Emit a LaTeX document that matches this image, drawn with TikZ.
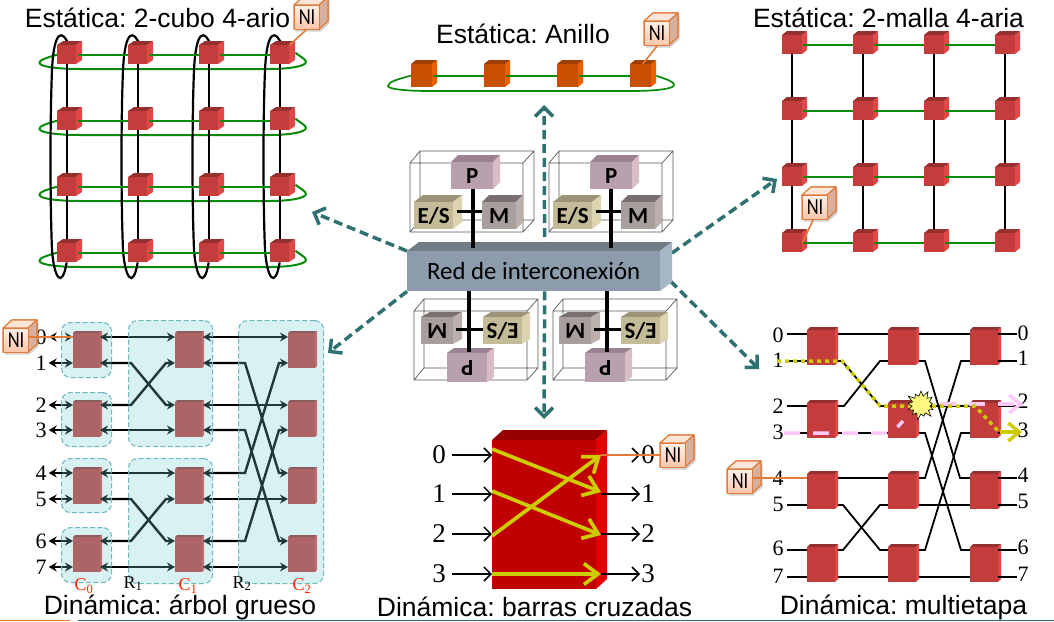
\documentclass[tikz,border=0pt]{standalone}
\usepackage{fontspec}
\setmainfont{Liberation Sans}
\newfontfamily\serifnum{Liberation Serif}
\newfontfamily\carl{Carlito}
\usetikzlibrary{arrows.meta,shadows,shapes.symbols,backgrounds}
\frenchspacing
\definecolor{redF}{HTML}{C43C3C}\definecolor{redT}{HTML}{963030}\definecolor{redS}{HTML}{E04848}
\definecolor{oraF}{HTML}{C84F00}\definecolor{oraT}{HTML}{9E3E00}\definecolor{oraS}{HTML}{E86000}
\definecolor{barF}{HTML}{8C9CAC}\definecolor{barT}{HTML}{707C86}\definecolor{barS}{HTML}{A6B6C6}
\definecolor{proF}{HTML}{B8A0AC}\definecolor{proT}{HTML}{9A8290}\definecolor{proS}{HTML}{D8BCC8}
\definecolor{iosF}{HTML}{C4BC98}\definecolor{iosT}{HTML}{9C9478}\definecolor{iosS}{HTML}{DCD3B0}
\definecolor{memF}{HTML}{A89E9C}\definecolor{memT}{HTML}{787070}\definecolor{memS}{HTML}{BCB0AC}
\definecolor{xbrF}{HTML}{C00000}\definecolor{xbrT}{HTML}{960000}\definecolor{xbrS}{HTML}{E00000}
\definecolor{nigreen}{HTML}{0A8A0A}
\definecolor{niline}{HTML}{E07B39}
\definecolor{tealar}{HTML}{2F7070}
\definecolor{yel}{HTML}{CCCC00}
\definecolor{pinkp}{HTML}{FFC8FA}
\definecolor{FCE4D8}{HTML}{FCE4D8}\definecolor{D8AE9E}{HTML}{D8AE9E}\definecolor{FFF0E8}{HTML}{FFF0E8}\definecolor{FFC4A8}{HTML}{FFC4A8}
\definecolor{shadec}{HTML}{72CFD6}\definecolor{shadel}{HTML}{70B8C0}
\newcommand{\cubo}[9]{%
  \fill[#8T] (#2,#3) -- ++(#6,-#7) -- ++(#4,0) -- ++(-#6,#7) -- cycle;
  \fill[#8S] (#2+#4,#3) -- ++(#6,-#7) -- ++(0,#5) -- ++(-#6,#7) -- cycle;
  \node[anchor=north west,inner sep=0pt,minimum width=#4pt,minimum height=#5pt,fill=#8F,font=\carl\bfseries\fontsize{23}{23}\selectfont] (#1) at (#2,#3) {#9};
}
\newcommand{\nicubo}[3]{%
  \fill[niface,drop shadow={opacity=.35,shadow xshift=1.5pt,shadow yshift=-2.5pt}] (#2,#3) -- ++(9,-8) -- ++(25,0) -- ++(0,24) -- ++(-9,8) -- ++(-25,0) -- cycle;
  \filldraw[niface,fill=FCE4D8] (#2,#3) -- ++(9,-8) -- ++(25,0) -- ++(-9,8) -- cycle;
  \filldraw[niface,fill=D8AE9E] (#2+25,#3) -- ++(9,-8) -- ++(0,24) -- ++(-9,8) -- cycle;
  \node[anchor=north west,inner sep=0pt,minimum width=25pt,minimum height=24pt,draw=niline,line width=1.1pt,top color=FFF0E8,bottom color=FFC4A8,text=black,font=\carl\fontsize{23}{23}\selectfont] (#1) at (#2,#3) {\scalebox{.8}[1]{NI}};
}
\newcommand{\marco}[2]{%
  \draw[frameline] (#1+10,#2-12) rectangle (#1+124,#2+57) (#1,#2) rectangle (#1+113,#2+69)
    (#1,#2) -- (#1+10,#2-12) (#1+113,#2) -- (#1+124,#2-12) (#1,#2+69) -- (#1+10,#2+57) (#1+113,#2+69) -- (#1+124,#2+57);
}
\tikzset{
  niface/.style={draw=niline,line width=1.1pt,fill=white,line join=round},
  frameline/.style={draw=black!65,line width=.7pt},
  title/.style={font=\fontsize{26.5}{26.5}\selectfont,inner sep=0pt,text=black},
  num/.style={font=\serifnum\fontsize{22}{22}\selectfont,inner sep=0pt},
  cnum/.style={font=\serifnum\fontsize{27}{27}\selectfont,inner sep=0pt},
  stagelab/.style={font=\serifnum\fontsize{18}{18}\selectfont,inner sep=0pt},
  ringk/.style={draw=black,line width=2.2pt},
  ringg/.style={draw=nigreen,line width=2pt},
  wirek/.style={draw=black,line width=2.3pt},
  wireg/.style={draw=nigreen,line width=2pt},
  thickw/.style={draw=black,line width=3.2pt},
  msw/.style={draw=black,line width=1.8pt},
  ftw/.style={draw=black,line width=2.4pt,{Stealth[length=8pt,width=9pt]}-{Stealth[length=8pt,width=9pt]}},
  tealarrow/.style={draw=tealar,line width=3.5pt,dash pattern=on 9pt off 5pt,-{Straight Barb[length=9pt,width=18pt,line width=3.5pt]}},
  xin/.style={draw=black,line width=1.5pt,-{Straight Barb[length=7pt,width=14pt]}},
  xyel/.style={draw=yel,line width=3.7pt,-{Straight Barb[length=14pt,width=21pt,line width=3.7pt]}},
  niwire/.style={draw=niline,line width=1.6pt},
  fatshade/.style={rounded corners=9pt,inner sep=0pt,anchor=north west,fill=shadec,fill opacity=.28,draw=shadel,draw opacity=1,line width=1.1pt,dash pattern=on 5pt off 2.5pt},
}
\begin{document}
\begin{tikzpicture}[x=1pt,y=-1pt]
\useasboundingbox (0,0) rectangle (1054,621);
% ---------------- top left: torus
\node[title] (t1) at (157.5,18) {Estática: 2-cubo 4-ario};
\foreach \r/\yy in {1/45,2/111,3/177,4/243}{
  \foreach \c/\xx in {1/57,2/128,3/199,4/270}{
    \cubo{a\r\c}{\xx}{\yy}{19}{19}{6}{4}{red}{}
  }
}
\begin{pgfonlayer}{background}
\foreach \r/\yy in {1/45,2/111,3/177,4/243}{
  \draw[ringg] (a\r1.west) .. controls (46,\yy+13) and (39,\yy+15) .. (39.5,\yy+18) .. controls (40,\yy+22) and (60,\yy+24) .. (80,\yy+24) -- (270,\yy+24) .. controls (290,\yy+24) and (306,\yy+21) .. (306,\yy+17) .. controls (306,\yy+14) and (299,\yy+11) .. ([xshift=6pt,yshift=2pt]a\r4.east);
}
\foreach \c/\xx in {1/57,2/128,3/199,4/270}{
  \draw[ringk] ([xshift=2pt]a1\c.north) .. controls (\xx+6,30) and (\xx-3,28) .. (\xx-5,70) .. controls (\xx-7,120) and (\xx-7,200) .. (\xx-5,250) .. controls (\xx-3,278) and (\xx+5,290) .. (a4\c.south);
  \draw[wirek] (a1\c.south) -- (a2\c.north);
  \draw[wirek] (a2\c.south) -- (a3\c.north);
  \draw[wirek] (a3\c.south) -- (a4\c.north);
}
\end{pgfonlayer}
\foreach \r in {1,2,3,4}{
  \draw[wireg,shorten <=2pt] (a\r1.east) -- (a\r2.west);
  \draw[wireg,shorten <=2pt] (a\r2.east) -- (a\r3.west);
  \draw[wireg,shorten <=2pt] (a\r3.east) -- (a\r4.west);
}
\nicubo{nia}{294}{5}
\draw[niwire] ([xshift=-1pt]nia.south) -- (a14.north east);
% ---------------- top middle: ring
\node[title] (t2) at (523,34) {Estática: Anillo};
\foreach \c/\xx in {1/411,2/484,3/557,4/630}{
  \cubo{o\c}{\xx}{64}{21}{23}{5}{4}{ora}{}
}
\begin{pgfonlayer}{background}
\draw[ringg,line width=1.7pt] (o1.west) .. controls (398,79) and (388,82) .. (388,86) .. controls (388,89) and (405,91) .. (430,91) -- (630,91) .. controls (655,91) and (674,89) .. (674,85) .. controls (674,81) and (662,78) .. ([xshift=5pt]o4.east);
\end{pgfonlayer}
\draw[wireg,line width=1.7pt,shorten <=1pt] (o1.east) -- (o2.west);
\draw[wireg,line width=1.7pt,shorten <=1pt] (o2.east) -- (o3.west);
\draw[wireg,line width=1.7pt,shorten <=1pt] (o3.east) -- (o4.west);
\nicubo{nib}{644}{21}
\draw[niwire] (nib.south) -- ([xshift=2pt]o4.north);
% ---------------- top right: mesh
\node[title] (t3) at (888.5,18) {Estática: 2-malla 4-aria};
\foreach \r/\yy in {1/35,2/101,3/167,4/233}{
  \foreach \c/\xx in {1/782,2/853,3/924,4/995}{
    \cubo{g\r\c}{\xx}{\yy}{20}{19}{5}{4}{red}{}
  }
}
\begin{pgfonlayer}{background}
\foreach \c in {1,2,3,4}{
  \draw[wirek] (g1\c.south) -- (g2\c.north);
  \draw[wirek] (g2\c.south) -- (g3\c.north);
  \draw[wirek] (g3\c.south) -- (g4\c.north);
}
\end{pgfonlayer}
\foreach \r in {1,2,3,4}{
  \draw[wireg,shorten <=1pt] (g\r1.east) -- (g\r2.west);
  \draw[wireg,shorten <=1pt] (g\r2.east) -- (g\r3.west);
  \draw[wireg,shorten <=1pt] (g\r3.east) -- (g\r4.west);
}
\nicubo{nic}{802}{195}
\draw[niwire] ([xshift=-2pt]nic.south) -- (g41.east);
% ---------------- centre frames
\marco{410}{163}
\marco{549}{163}
\marco{414}{311}
\marco{553}{311}
% bar
\node[anchor=north west,inner sep=0pt,minimum width=253pt,minimum height=40pt] (barpos) at (407,251) {};
\coordinate (tipup) at (544,105);
\coordinate (tipdn) at (544,419);
\coordinate (tiptl) at (312,212);
\coordinate (tiptr) at (777,179);
\coordinate (tipbl) at (328,353);
\coordinate (tipbr) at (759,369);
\draw[tealarrow] ([xshift=11pt]barpos.north) -- (tipup);
\draw[tealarrow] ([xshift=11pt]barpos.south) -- (tipdn);
\draw[tealarrow] (barpos.north west) -- (tiptl);
\draw[tealarrow] ([yshift=10pt]barpos.east) -- (tiptr);
\draw[tealarrow] (barpos.south west) -- (tipbl);
\draw[tealarrow] (barpos.east) -- (tipbr);
\cubo{bar}{407}{251}{253}{40}{12}{9}{bar}{\mdseries\fontsize{24.8}{24.8}\selectfont Red de interconexión}
% upper processors
\foreach \n/\dx/\wx in {1/0/473,2/139/611}{
  \cubo{P\n}{451+\dx}{162}{42}{27}{7}{7}{pro}{P}
  \cubo{ES\n}{414+\dx}{202}{39}{27}{9}{7}{ios}{E/S}
  \cubo{M\n}{482+\dx}{202}{34}{27}{7}{7}{mem}{M}
  \draw[thickw] ([xshift=4pt,yshift=4.5pt]ES\n.east) -- ([yshift=4.5pt]M\n.west);
  \draw[thickw,shorten >=3pt] (\wx,189) -- (\wx,251);
}
% lower processors
\foreach \n/\dx/\wx in {3/0/469,4/138/607}{
  \cubo{M\n}{421+\dx}{317}{32}{27}{9}{5}{mem}{\rotatebox{180}{M}}
  \cubo{ES\n}{483+\dx}{317}{39}{27}{8}{5}{ios}{\rotatebox{180}{E/S}}
  \cubo{P\n}{447+\dx}{353}{40}{29}{7}{5}{pro}{\rotatebox{180}{P}}
  \draw[thickw] ([xshift=3pt,yshift=1.5pt]M\n.east) -- ([yshift=1.5pt]ES\n.west);
  \draw[thickw] (\wx,291) -- (\wx,352);
}
% ---------------- bottom left: fat tree
\foreach \c/\xl/\xr in {0/73/100,1/175/202,2/288/315}{
  \foreach \w/\yy in {0/337,1/363,2/405,3/430,4/473,5/499,6/541,7/567}{
    \coordinate (fL\c\w) at (\xl,\yy);
    \coordinate (fR\c\w) at (\xr,\yy);
  }
}
\foreach \c/\xl in {0/73,1/175,2/288}{
  \foreach \b/\yy in {1/333,2/402,3/469,4/537}{
    \cubo{f\c\b}{\xl}{\yy}{27}{35}{2}{2}{red}{}
  }
}
\foreach \w/\yy in {0/337,1/363,2/405,3/430,4/473,5/499,6/541,7/567}{
  \node[num] (fi\w) at (41,\yy) {\w};
  \draw[ftw] ([xshift=2pt]fi\w.east |- fL0\w) -- (fL0\w);
}
\draw[ftw] (fR00) -- (fL10);
\draw[ftw] (fR01) -- ++(31,0) -- ([xshift=-9pt]fL12) -- (fL12);
\draw[ftw] (fR02) -- ++(31,0) -- ([xshift=-9pt]fL11) -- (fL11);
\draw[ftw] (fR03) -- (fL13);
\draw[ftw] (fR04) -- (fL14);
\draw[ftw] (fR05) -- ++(31,0) -- ([xshift=-9pt]fL16) -- (fL16);
\draw[ftw] (fR06) -- ++(31,0) -- ([xshift=-9pt]fL15) -- (fL15);
\draw[ftw] (fR07) -- (fL17);
\draw[ftw] ([xshift=1pt]fR10) -- (fL20);
\draw[ftw] ([xshift=1pt]fR11) -- ++(42,0) -- ([xshift=-9pt]fL24) -- (fL24);
\draw[ftw] ([xshift=1pt]fR12) -- (fL22);
\draw[ftw] ([xshift=1pt]fR13) -- ++(42,0) -- ([xshift=-9pt]fL26) -- (fL26);
\draw[ftw] ([xshift=1pt]fR14) -- ++(42,0) -- ([xshift=-9pt]fL21) -- (fL21);
\draw[ftw] ([xshift=1pt]fR15) -- (fL25);
\draw[ftw] ([xshift=1pt]fR16) -- ++(42,0) -- ([xshift=-9pt]fL23) -- (fL23);
\draw[ftw] ([xshift=1pt]fR17) -- (fL27);
\node[fatshade,minimum width=50pt,minimum height=55pt] (s1) at (61,322) {};
\node[fatshade,minimum width=50pt,minimum height=54pt] (s2) at (61,392) {};
\node[fatshade,minimum width=50pt,minimum height=54pt] (s3) at (61,458) {};
\node[fatshade,minimum width=50pt,minimum height=55pt] (s4) at (61,527) {};
\node[fatshade,minimum width=84pt,minimum height=126pt] (s5) at (128,320) {};
\node[fatshade,minimum width=84pt,minimum height=125pt] (s6) at (128,458) {};
\node[fatshade,minimum width=85pt,minimum height=263pt] (s7) at (238,320) {};
\nicubo{nid}{3}{328}
\draw[niwire] (nid.east |- fL00) -- (fL00);
\node[stagelab,text=red!75!orange] (c0) at (84,586) {C\textsubscript{0}};
\node[stagelab] (r1) at (133,583.5) {R\textsubscript{1}};
\node[stagelab,text=red!75!orange] (c1) at (188,586) {C\textsubscript{1}};
\node[stagelab] (r2) at (242,583.5) {R\textsubscript{2}};
\node[stagelab,text=red!75!orange] (c2) at (302,586) {C\textsubscript{2}};
\node[title] (t4) at (180,607) {Dinámica: árbol grueso};
% ---------------- bottom middle: crossbar
\cubo{xb}{492}{440}{104}{149}{11}{10}{xbr}{}
\foreach \w/\yy in {0/455,1/494,2/534,3/574}{
  \coordinate (xL\w) at (492,\yy);
  \coordinate (xR\w) at (601,\yy);
  \node[cnum] (xi\w) at (439,\yy) {\w};
  \node[cnum] (xo\w) at (648,\yy) {\w};
  \draw[xin] ([xshift=6pt]xi\w.east) -- (xL\w);
  \draw[xin] (xR\w) -- ([xshift=-1pt]xo\w.west);
}
\draw[xyel] ([yshift=-2pt]xL2) -- (xR0);
\draw[xyel] ([yshift=6pt]xL0) -- ([yshift=2pt]xR1);
\draw[xyel] ([yshift=3pt]xL1) -- ([yshift=-1pt]xR2);
\draw[xyel] (xL3) -- (xR3);
\nicubo{nie}{660}{443}
\draw[niwire] (xR0) -- (nie.west |- xR0);
\node[title] (t5) at (534.5,607) {Dinámica: barras cruzadas};
% ---------------- bottom right: multistage
\foreach \c/\xl/\xr in {1/807/835,2/888/916,3/970/998}{
  \foreach \w/\yy in {0/334,1/361,2/406,3/433,4/478,5/505,6/550,7/577}{
    \coordinate (mL\c\w) at (\xl,\yy);
    \coordinate (mR\c\w) at (\xr,\yy);
  }
  \foreach \b/\yy in {1/330,2/403,3/474,4/547}{
    \cubo{m\c\b}{\xl}{\yy}{28}{35}{3}{3}{red}{}
  }
}
\foreach \w/\yy/\yo in {0/335/333,1/360/358,2/406/401,3/432/430,4/478/475,5/504/501,6/548/547,7/576/574}{
  \node[num] (mi\w) at (778,\yy) {\w};
  \node[num] (mo\w) at (1023,\yo) {\w};
  \draw[msw] ([xshift=3pt]mi\w.east |- mL1\w) -- (mL1\w);
  \draw[msw] (mR3\w) -- (mo\w.west |- mR3\w);
}
\begin{pgfonlayer}{background}
\foreach \w in {0,3,4,7}{\draw[msw] (mR1\w) -- (mL2\w);}
\draw[msw] (mR11) -- ++(7,0) -- ([xshift=-8pt]mL22) -- (mL22);
\draw[msw] (mR12) -- ++(9,0) -- ([xshift=-8pt]mL21) -- (mL21);
\draw[msw] (mR15) -- ++(8,0) -- ([xshift=-8pt]mL26) -- (mL26);
\draw[msw] (mR16) -- ++(8,0) -- ([xshift=-8pt]mL25) -- (mL25);
\foreach \w in {0,2,5,7}{\draw[msw] (mR2\w) -- (mL3\w);}
\draw[msw] (mR21) -- ++(9,0) -- ([xshift=-10pt]mL34) -- (mL34);
\draw[msw] (mR23) -- ++(9,0) -- ([xshift=-9pt]mL36) -- (mL36);
\draw[msw] (mR24) -- ++(9,0) -- ([xshift=-9pt]mL31) -- (mL31);
\draw[msw] (mR26) -- ++(9,0) -- ([xshift=-9pt]mL33) -- (mL33);
\end{pgfonlayer}
\coordinate (ys) at (777,361);
\coordinate (ye) at (1022,432);
\coordinate (ps) at (784,433);
\coordinate (pe) at (1023,404);
\draw[pinkp,line width=3.5pt,dash pattern=on 16pt off 13pt] (ps) -- (892,433) -- (903,421);
\draw[pinkp,line width=3.5pt,dash pattern=on 16pt off 13pt,-{Straight Barb[length=11pt,width=18pt,line width=3.5pt]}] (940,404) -- (pe);
\draw[yel,line width=3.5pt,dash pattern=on 4pt off 4pt] (ys) -- ([xshift=7pt]mR11) -- ([xshift=-8pt]mL22) -- (975,406) -- (998,431);
\draw[yel,line width=3.5pt,-{Straight Barb[length=11pt,width=18pt,line width=3.5pt]}] (1000,432) -- (ye);
\node[starburst,starburst points=13,starburst point height=7pt,minimum width=32pt,minimum height=32pt,inner sep=0pt,fill=yellow!50,draw=black,line width=.6pt] (star) at (921,405) {};
\nicubo{nif}{727}{469}
\draw[niwire] (nif.east |- mL14) -- (mL14);
\node[title] (t6) at (903.5,607) {Dinámica: multietapa};
% footer rules
\coordinate (fa) at (0,620.3);\coordinate (fb) at (70,620.3);
\coordinate (fc) at (78,620.3);\coordinate (fd) at (1054,620.3);
\draw[niline,line width=1pt] (fa) -- (fb);
\draw[tealar,line width=1pt] (fc) -- (fd);
\end{tikzpicture}
\end{document}
